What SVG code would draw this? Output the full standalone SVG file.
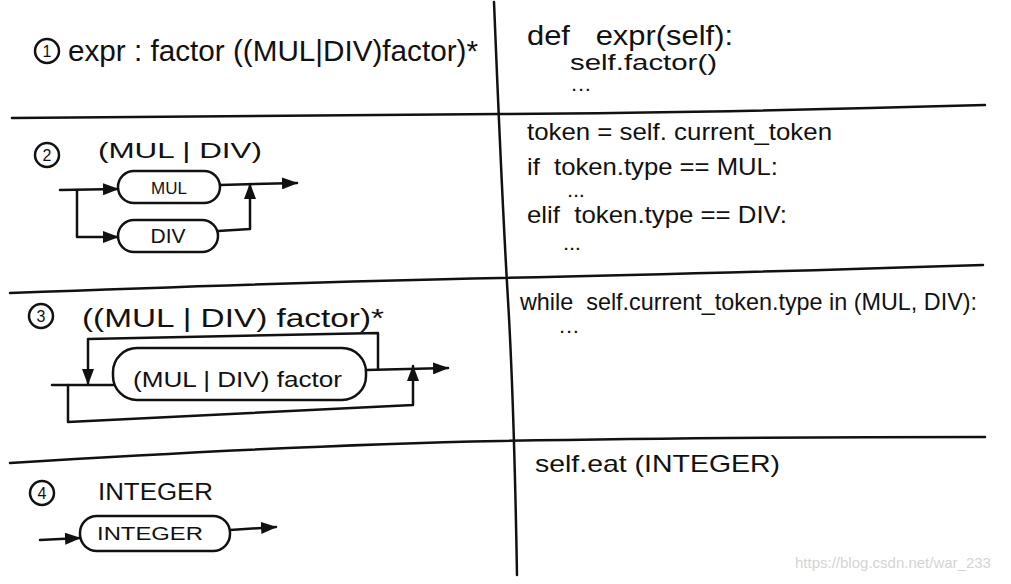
<svg xmlns="http://www.w3.org/2000/svg" width="1011" height="584" viewBox="0 0 1011 584">
<style>
.ln{fill:none;stroke:#111;stroke-width:2.5;stroke-linecap:round;stroke-linejoin:round}
.pill{fill:#fff;stroke:#111;stroke-width:2.5}
.t{font-family:"Liberation Sans","DejaVu Sans",sans-serif;fill:#111;white-space:pre}
.dots{font-family:"Liberation Sans",sans-serif;fill:#111;font-size:15px;font-weight:bold}
.num{font-family:"Liberation Sans",sans-serif;fill:#111;font-size:16px;text-anchor:middle}
.wm{font-family:"Liberation Sans",Arial,sans-serif;fill:#d4d4d4;font-size:15px}
</style>
<defs>
<marker id="ah" viewBox="0 0 16 12" refX="15" refY="6" markerWidth="16" markerHeight="12" markerUnits="userSpaceOnUse" orient="auto">
<path d="M0,0 L16,6 L0,12 Z" fill="#111"/>
</marker>
</defs>
<rect width="1011" height="584" fill="#fff"/>
<g id="grid">
<path class="ln" d="M12,118 Q300,115 500,114 T985,105"/>
<path class="ln" d="M10,293 Q300,282 500,278 T983,265"/>
<path class="ln" d="M10,463 Q300,445 500,441 T985,437"/>
<path class="ln" d="M494,2 Q502,200 508,300 T517,575"/>
</g>
<g id="row1">
<circle class="ln" cx="47" cy="51" r="12"/>
<text class="num" x="47" y="57">1</text>
<text class="t" x="68" y="61" font-size="30" textLength="410" lengthAdjust="spacingAndGlyphs">expr : factor ((MUL|DIV)factor)*</text>
<text class="t" x="527" y="45" font-size="28" textLength="206" lengthAdjust="spacingAndGlyphs" xml:space="preserve">def   expr(self):</text>
<text class="t" x="570" y="70" font-size="22" textLength="147" lengthAdjust="spacingAndGlyphs">self.factor()</text>
<text class="dots" x="572" y="91" textLength="18">...</text>
</g>
<g id="row2">
<circle class="ln" cx="47" cy="155" r="12"/>
<text class="num" x="47" y="161">2</text>
<text class="t" x="98" y="158" font-size="22" textLength="164" lengthAdjust="spacingAndGlyphs" xml:space="preserve">(MUL | DIV)</text>
<text class="t" x="527" y="140" font-size="24" textLength="305" lengthAdjust="spacingAndGlyphs">token = self. current_token</text>
<text class="t" x="527" y="175" font-size="24" textLength="251" lengthAdjust="spacingAndGlyphs" xml:space="preserve">if  token.type == MUL:</text>
<text class="dots" x="568" y="197" textLength="16">...</text>
<text class="t" x="527" y="223" font-size="24" textLength="260" lengthAdjust="spacingAndGlyphs" xml:space="preserve">elif  token.type == DIV:</text>
<text class="dots" x="564" y="250" textLength="16">...</text>
</g>
<g id="node-mul">
<rect class="pill" x="118" y="171" width="102" height="32" rx="16"/>
<text class="t" x="169" y="194" font-size="17" text-anchor="middle">MUL</text>
</g>
<g id="node-div">
<rect class="pill" x="118" y="220" width="100" height="32" rx="16"/>
<text class="t" x="168" y="243" font-size="21" text-anchor="middle">DIV</text>
</g>
<g id="row3">
<circle class="ln" cx="41" cy="316" r="12"/>
<text class="num" x="41" y="322">3</text>
<text class="t" x="82" y="327" font-size="26" textLength="302" lengthAdjust="spacingAndGlyphs">((MUL | DIV) factor)*</text>
<text class="t" x="520" y="310" font-size="24" textLength="457" lengthAdjust="spacingAndGlyphs" xml:space="preserve">while  self.current_token.type in (MUL, DIV):</text>
<text class="dots" x="560" y="333" textLength="18">...</text>
</g>
<g id="node-muldiv-factor">
<rect class="pill" x="113" y="348" width="253" height="52" rx="24"/>
<text class="t" x="133" y="387" font-size="22" textLength="209" lengthAdjust="spacingAndGlyphs">(MUL | DIV) factor</text>
</g>
<g id="row4">
<circle class="ln" cx="42" cy="493" r="12"/>
<text class="num" x="42" y="499">4</text>
<text class="t" x="98" y="500" font-size="23" textLength="115" lengthAdjust="spacingAndGlyphs">INTEGER</text>
<text class="t" x="535" y="472" font-size="24" textLength="245" lengthAdjust="spacingAndGlyphs">self.eat (INTEGER)</text>
</g>
<g id="node-integer">
<rect class="pill" x="80" y="516" width="150" height="35" rx="17"/>
<text class="t" x="97" y="540" font-size="19" textLength="106" lengthAdjust="spacingAndGlyphs">INTEGER</text>
</g>
<g id="connectors">
<path class="ln" d="M60,190 L118,189" marker-end="url(#ah)"/>
<path class="ln" d="M77,190 L77,237 L118,237" marker-end="url(#ah)"/>
<path class="ln" d="M220,185 L297,183" marker-end="url(#ah)"/>
<path class="ln" d="M218,231 L250,229 L250,184" marker-end="url(#ah)"/>
<path class="ln" d="M52,385 L113,385"/>
<path class="ln" d="M366,370 L448,368" marker-end="url(#ah)"/>
<path class="ln" d="M378,369 L378,333 L88,339 L88,384" marker-end="url(#ah)"/>
<path class="ln" d="M68,385 L68,422 L413,405 L413,366" marker-end="url(#ah)"/>
<path class="ln" d="M40,540 L80,538" marker-end="url(#ah)"/>
<path class="ln" d="M230,530 L276,527" marker-end="url(#ah)"/>
</g>
<text class="wm" x="795" y="568">https://blog.csdn.net/war_233</text>
</svg>
